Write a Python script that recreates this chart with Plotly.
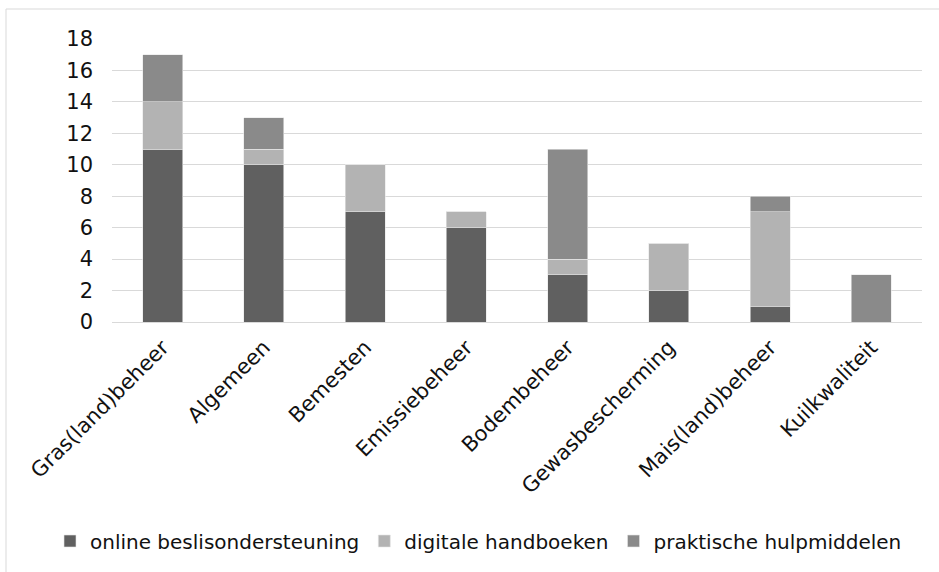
import plotly.graph_objects as go

# Categories and counts per tool type
categories = ["Gras(land)beheer", "Algemeen", "Bemesten", "Emissiebeheer",
              "Bodembeheer", "Gewasbescherming", "Mais(land)beheer", "Kuilkwaliteit"]
online = [11, 10, 7, 6, 3, 2, 1, 0]
digitaal = [3, 1, 3, 1, 1, 3, 6, 0]
praktisch = [3, 2, 0, 0, 7, 0, 1, 3]

series_names = ["online beslisondersteuning", "digitale handboeken", "praktische hulpmiddelen"]
y_ticks = list(range(0, 19, 2))

colors = ["#606060", "#b3b3b3", "#8a8a8a"]
font_family = "DejaVu Sans, Verdana, sans-serif"

fig = go.Figure()
for name, vals, col in zip(series_names, [online, digitaal, praktisch], colors):
    fig.add_trace(go.Bar(
        x=categories, y=vals, name=name,
        marker=dict(color=col, line=dict(color="#e6e6e6", width=0.6)),
    ))

fig.update_layout(
    barmode="stack",
    bargap=0.605,
    width=939, height=572,
    margin=dict(l=112, r=17, t=39, b=250, autoexpand=False),
    paper_bgcolor="white", plot_bgcolor="white",
    font=dict(family=font_family, size=20, color="#111111"),
    showlegend=True,
    legend=dict(orientation="h", x=(50 - 112) / 810, xanchor="left",
                y=(322 - 541) / 283, yanchor="middle",
                font=dict(size=20), itemwidth=30, traceorder="normal"),
    shapes=[dict(type="rect", xref="paper", yref="paper",
                 x0=(6 - 112) / 810, x1=1.2, y0=-1.2, y1=(322 - 9) / 283,
                 line=dict(color="#d9d9d9", width=1), fillcolor="rgba(0,0,0,0)",
                 layer="below")],
)
fig.update_xaxes(tickangle=-45, showgrid=False, showline=False, ticks="",
                 tickfont=dict(size=21), ticklabelstandoff=8, automargin=False)
fig.update_yaxes(range=[0, 18], tickvals=y_ticks, showgrid=True, gridcolor="#d9d9d9",
                 gridwidth=1.3, zeroline=True, zerolinecolor="#d9d9d9", zerolinewidth=1.3,
                 showline=False, ticks="", ticklabelstandoff=18, tickfont=dict(size=21),
                 automargin=False)

fig.write_html("out.html")
